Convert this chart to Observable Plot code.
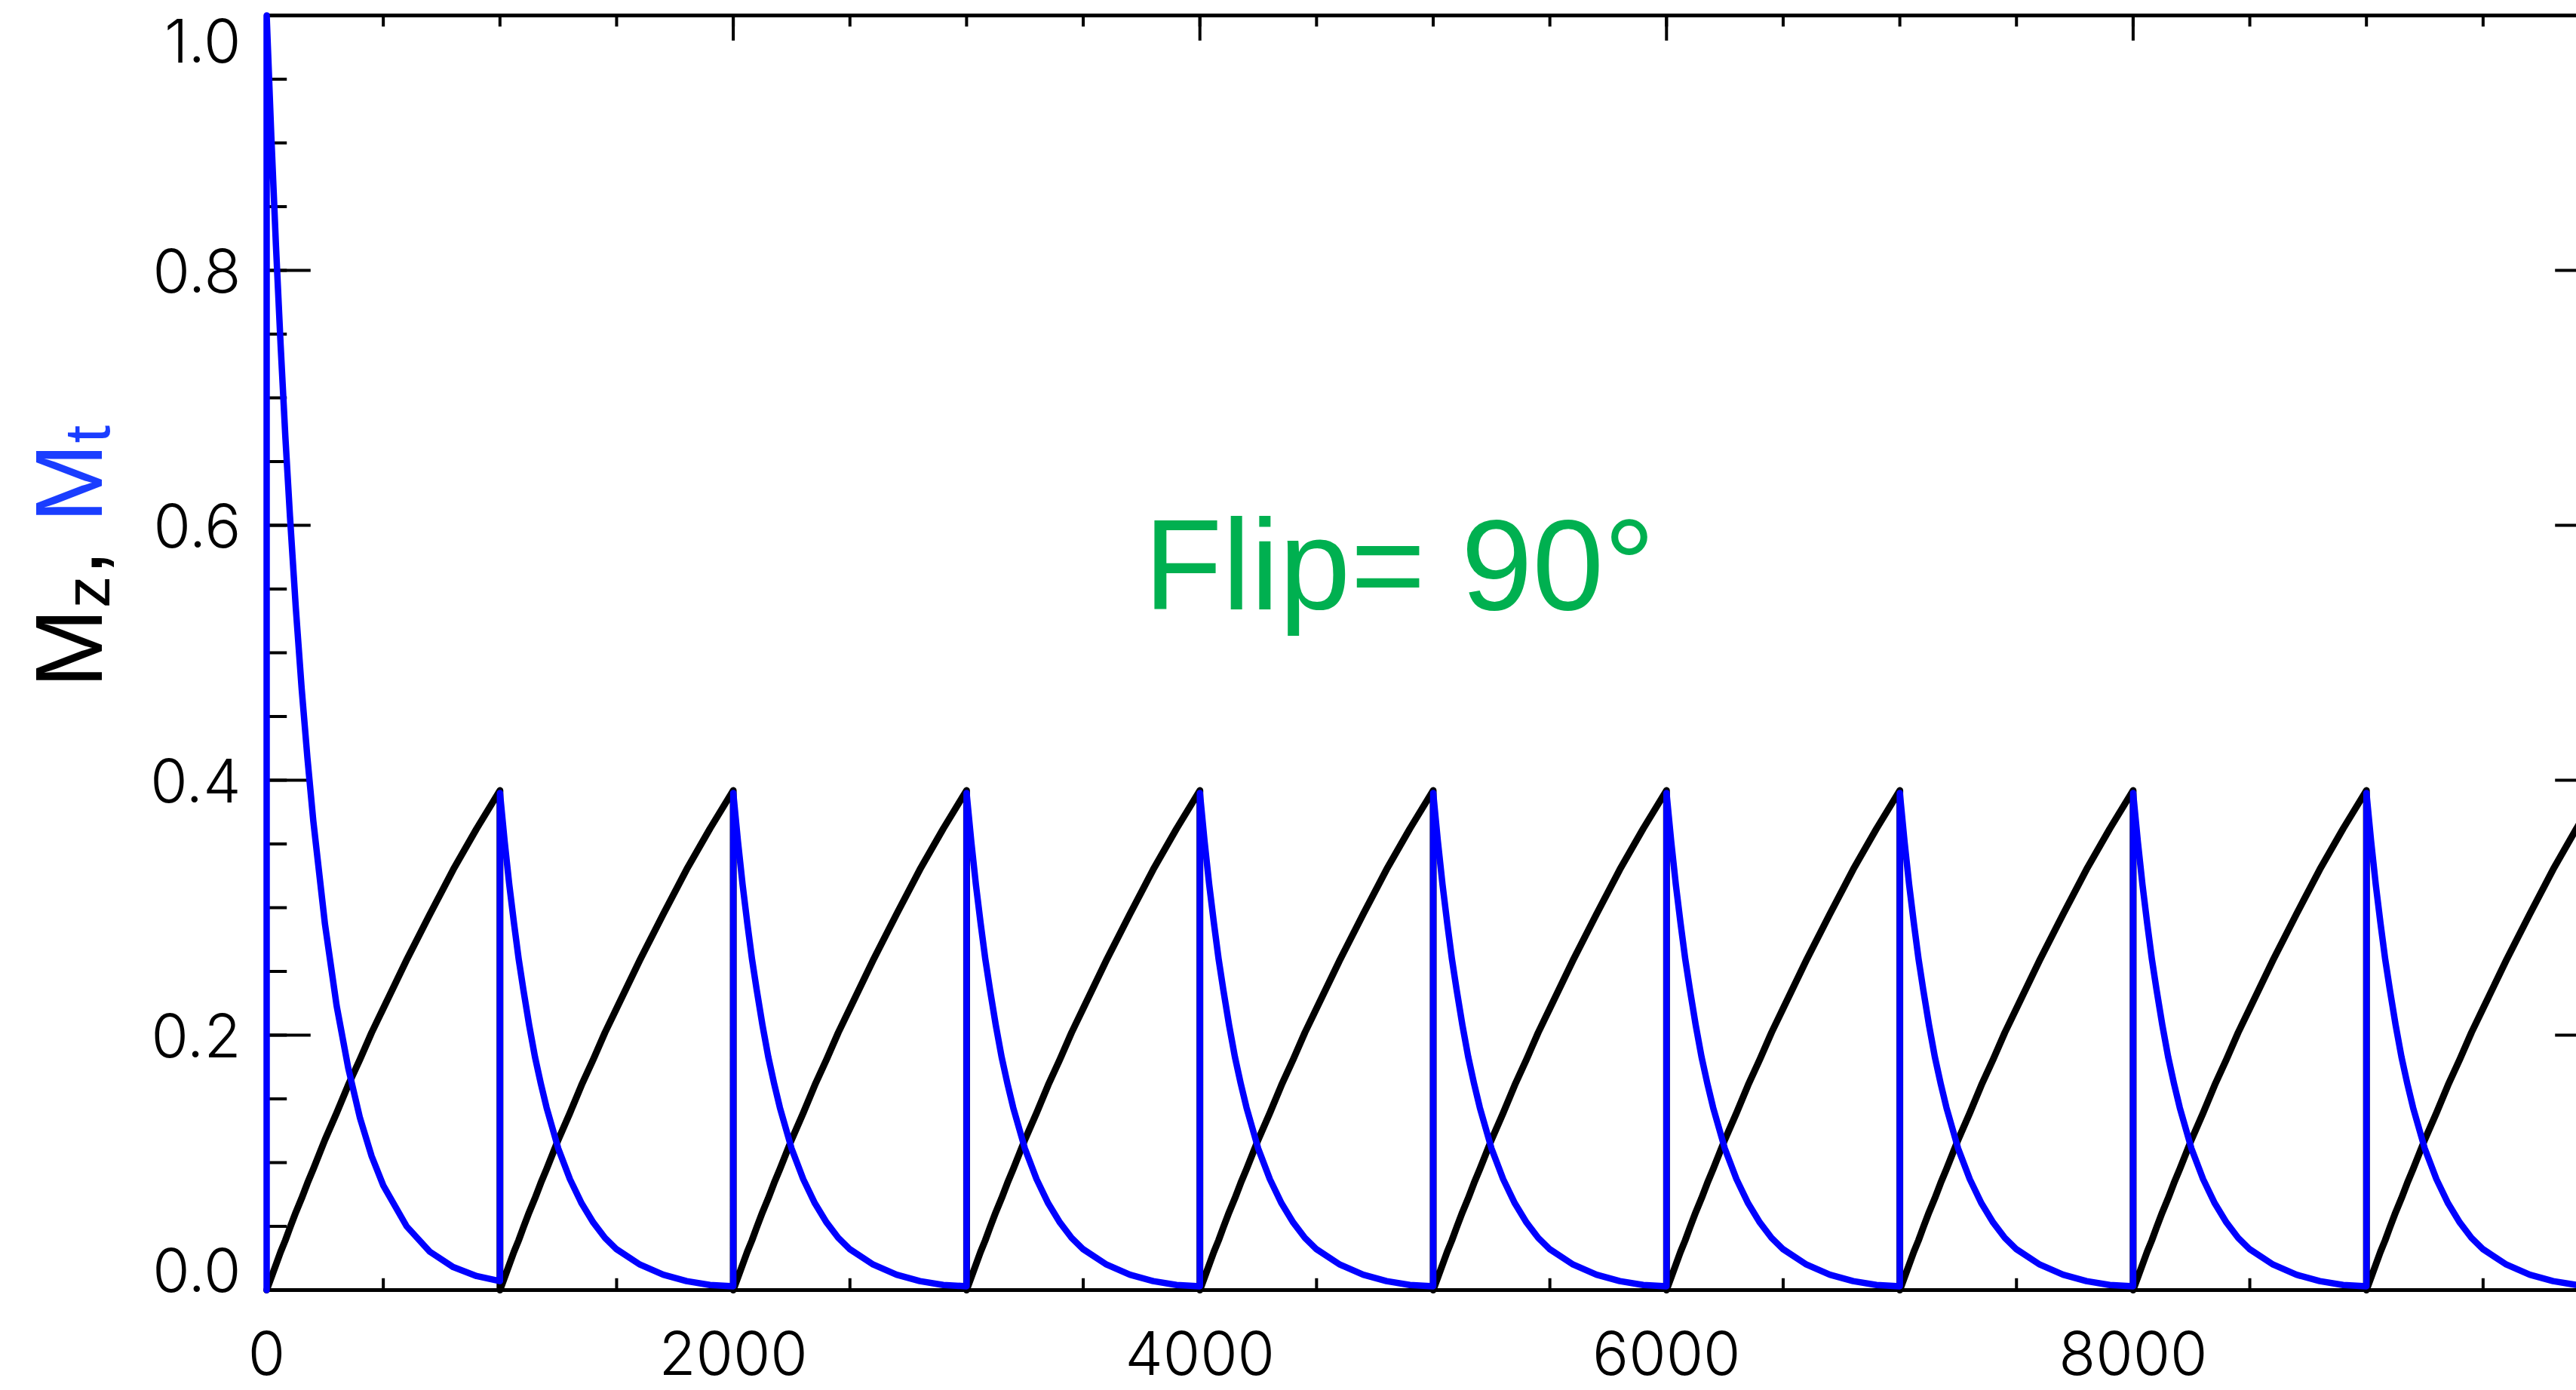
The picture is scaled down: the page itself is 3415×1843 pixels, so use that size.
<!DOCTYPE html>
<html><head><meta charset="utf-8">
<script src="https://cdn.jsdelivr.net/npm/d3@7"></script>
<script src="https://cdn.jsdelivr.net/npm/@observablehq/plot@0.6"></script>
<style>html,body{margin:0;padding:0;background:#fff;overflow:hidden;}</style>
</head><body><div id="chart"></div>
<script>
// ---- data ----
const pulseTimes = [0, 1000, 2000, 3000, 4000, 5000, 6000, 7000, 8000, 9000];
const cycleOffsets = [0, 20, 40, 60, 80, 100, 125, 150, 175, 200, 250, 300, 350, 400, 450, 500, 600, 700, 800, 900, 1000];
// black: Mz recovery after each flip
const mzRecovery = [0.000, 0.010, 0.020, 0.030, 0.039, 0.049, 0.061, 0.072, 0.084, 0.095, 0.118, 0.139, 0.161, 0.181, 0.202, 0.221, 0.259, 0.295, 0.330, 0.362, 0.392];
// blue: Mt decay after the first flip
const mtFirst = [1.000, 0.905, 0.819, 0.741, 0.670, 0.607, 0.535, 0.472, 0.417, 0.368, 0.287, 0.223, 0.174, 0.135, 0.105, 0.082, 0.050, 0.030, 0.018, 0.011, 0.007];
// blue: Mt decay after later flips
const mtDecay = [0.390, 0.352, 0.318, 0.288, 0.260, 0.236, 0.208, 0.183, 0.162, 0.143, 0.111, 0.087, 0.068, 0.053, 0.041, 0.032, 0.020, 0.012, 0.007, 0.004, 0.003];
const mtBeforeFirst = 0.0;
const xMajor = [0, 2000, 4000, 6000, 8000, 10000];
const xMajorLabels = ["0", "2000", "4000", "6000", "8000"];
const xMinor = d3.range(0, 10001, 500);
const yMajor = [0, 0.2, 0.4, 0.6, 0.8, 1.0];
const yMajorLabels = ["0.0", "0.2", "0.4", "0.6", "0.8", "1.0"];
const yMinor = d3.range(0, 1.0001, 0.05);
const annotation = ["Flip= 90°"];

// ---- tables ----
const blackPts = pulseTimes.flatMap(p => cycleOffsets.map((o, i) => ({t: p + o, v: mzRecovery[i]})));
const bluePts = [{t: 0, v: mtBeforeFirst}].concat(
  pulseTimes.flatMap((p, k) => cycleOffsets.map((o, i) => ({t: p + o, v: (k === 0 ? mtFirst : mtDecay)[i]}))));
const xLab = xMajorLabels.map(s => ({x: +s, s}));
const yLab = yMajorLabels.map(s => ({y: +s, s}));

const tickFont = "Inter, 'Liberation Sans', sans-serif";
const chart = Plot.plot({
  width: 3415, height: 1843,
  marginLeft: 353, marginRight: -31, marginTop: 20, marginBottom: 133,
  x: {domain: [0, 10000], axis: null},
  y: {domain: [0, 1], axis: null},
  style: {background: "#fff", overflow: "hidden"},
  marks: [
    Plot.frame({stroke: "black", strokeWidth: 5}),
    // x ticks bottom & top
    Plot.ruleX(xMajor, {x: d => d, y1: 0, y2: 0.02, stroke: "black", strokeWidth: 4}),
    Plot.ruleX(xMinor, {x: d => d, y1: 0, y2: 0.009, stroke: "black", strokeWidth: 4}),
    Plot.ruleX(xMajor, {x: d => d, y1: 1, y2: 0.98, stroke: "black", strokeWidth: 4}),
    Plot.ruleX(xMinor, {x: d => d, y1: 1, y2: 0.991, stroke: "black", strokeWidth: 4}),
    // y ticks left & right
    Plot.ruleY(yMajor, {y: d => d, x1: 0, x2: 190, stroke: "black", strokeWidth: 4}),
    Plot.ruleY(yMinor, {y: d => d, x1: 0, x2: 88, stroke: "black", strokeWidth: 4}),
    Plot.ruleY(yMajor, {y: d => d, x1: 10000, x2: 9810, stroke: "black", strokeWidth: 4}),
    Plot.ruleY(yMinor, {y: d => d, x1: 10000, x2: 9912, stroke: "black", strokeWidth: 4}),
    // curves
    Plot.line(blackPts, {x: "t", y: "v", stroke: "black", strokeWidth: 9, strokeLinejoin: "round"}),
    Plot.line(bluePts, {x: "t", y: "v", stroke: "#0000ff", strokeWidth: 8.5, strokeLinejoin: "round"}),
    // x tick labels
    Plot.text(xLab, {x: "x", text: "s", frameAnchor: "bottom", dy: 87, lineAnchor: "middle",
      fontSize: 80, fontFamily: tickFont, fontWeight: 300, fill: "black"}),
    // y tick labels (ends kept inside the axis extent)
    Plot.text(yLab.filter(d => d.y > 0 && d.y < 1), {y: "y", text: "s", frameAnchor: "left", textAnchor: "end", dx: -34, dy: 4,
      lineAnchor: "middle", fontSize: 80, fontFamily: tickFont, fontWeight: 300, fill: "black"}),
    Plot.text(yLab.filter(d => d.y === 0), {y: "y", text: "s", frameAnchor: "left", textAnchor: "end", dx: -34, dy: 2,
      lineAnchor: "bottom", fontSize: 80, fontFamily: tickFont, fontWeight: 300, fill: "black"}),
    Plot.text(yLab.filter(d => d.y === 1), {y: "y", text: "s", frameAnchor: "left", textAnchor: "end", dx: -34, dy: 6,
      lineAnchor: "top", fontSize: 80, fontFamily: tickFont, fontWeight: 300, fill: "black"}),
    // annotation
    Plot.text(annotation, {x: () => 3760, y: () => 0.534, text: d => d, textAnchor: "start", lineAnchor: "bottom",
      fontSize: 170, fontFamily: "'Liberation Sans', Arial, sans-serif", fill: "#00b050"})
  ]
});
document.getElementById("chart").appendChild(chart);

// rotated y-axis title with mixed colours
const svg = d3.select(chart);
const lab = svg.append("text")
  .attr("transform", "translate(135,738) rotate(-90)")
  .attr("text-anchor", "middle")
  .attr("font-family", "'Liberation Sans', Arial, sans-serif")
  .attr("font-size", 127);
lab.append("tspan").attr("fill", "#000").text("M");
lab.append("tspan").attr("fill", "#000").attr("font-size", 85).attr("dy", 10).text("z");
lab.append("tspan").attr("fill", "#000").attr("dy", -10).text(", ");
lab.append("tspan").attr("fill", "#1a3dff").text("M");
lab.append("tspan").attr("fill", "#1a3dff").attr("font-size", 85).attr("dy", 10).text("t");
</script>
</body></html>
